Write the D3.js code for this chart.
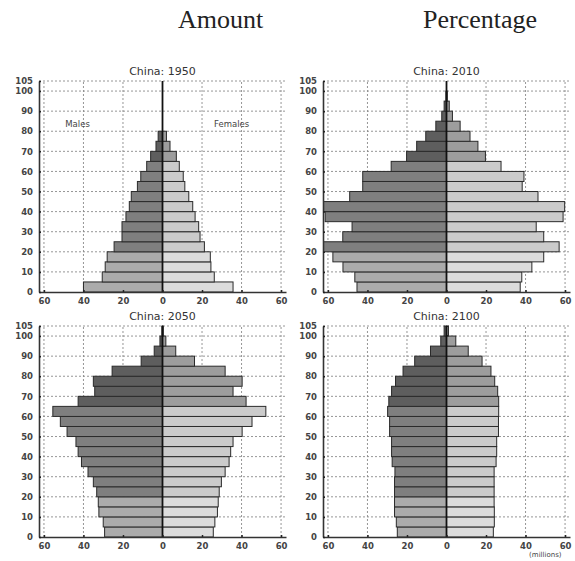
<!DOCTYPE html>
<html><head><meta charset="utf-8">
<script src="https://cdn.jsdelivr.net/npm/d3@7"></script>
<style>body{margin:0;background:#fff} svg{display:block}</style>
</head><body>
<script>
// Five-year age groups, bottom to top
const ageGroups = ["0-4","5-9","10-14","15-19","20-24","25-29","30-34","35-39","40-44","45-49",
  "50-54","55-59","60-64","65-69","70-74","75-79","80-84","85-89","90-94","95-99","100+"];
const ageTicks = [0,10,20,30,40,50,60,70,80,90,100,105];
const popTicks = [-60,-40,-20,0,20,40,60];
const titles = ["China: 1950","China: 2010","China: 2050","China: 2100"];

// Population in millions per age group
const male1950   = [40,30.5,29,28,24.5,20.5,20.5,18.5,16.8,15.8,12.7,11,8,6,3.3,2.2,0,0,0,0,0];
const female1950 = [35.7,26.2,24.5,24.2,21.2,19,18.3,16.5,15.3,13.3,11.3,10.5,8.5,7,3.8,2,0,0,0,0,0];
const male2010   = [45.3,46.4,52.4,57.5,63.5,52.5,47.8,61.4,63.5,49,42.4,42.4,28,20.2,15.1,10.5,5.4,2.4,1.2,0.3,0];
const female2010 = [37.3,38.1,43.2,49.2,57,49.2,45.4,59,59.8,46.3,38.3,39.2,27.6,19.7,15.9,11.9,6.9,3,1.4,0.4,0];
const male2050   = [29.3,30,32.2,32.5,33.3,35,37.7,41,42.7,43.8,48.3,51.7,55.5,42.7,34.3,35,25.5,10.8,4.2,1.3,0.3];
const female2050 = [25.7,26.5,27.8,28.2,28.7,29.8,31.7,33.7,34.5,35.7,40.3,45.3,52.3,42.3,35.7,40.3,31.7,16.2,6.7,1.7,0.4];
const male2100   = [24.9,25.4,26.3,26.3,26.3,26.3,26.1,27.5,27.8,27.8,28.8,28.8,29.8,29.2,27.8,25.8,22,16.1,8.1,2.9,1.2];
const female2100 = [23.7,24.2,24.2,24.1,24.1,24.1,24.1,25.1,25.4,25.4,26.3,26.3,26.4,26.4,25.9,24.4,22.5,18,11,4.7,1];

const maleSeries = [male1950, male2010, male2050, male2100];
const femaleSeries = [female1950, female2010, female2050, female2100];

// Shading: 0-19, 20-64, 65+
const maleFill = ["#ababab", "#7f7f7f", "#5e5e5e"];
const femaleFill = ["#dcdcdc", "#cbcbcb", "#9d9d9d"];
const band = i => i < 4 ? 0 : (i < 13 ? 1 : 2);

const frames = [
  {x0: 39, x1: 286, y0: 292, y1: 81},
  {x0: 323, x1: 570, y0: 292, y1: 81},
  {x0: 39, x1: 286, y0: 537, y1: 326},
  {x0: 323, x1: 570, y0: 537, y1: 326}
];

const svg = d3.select("body").append("svg").attr("width", 575).attr("height", 561)
  .style("font-family", "'DejaVu Sans', sans-serif");

svg.append("text").attr("x", 178).attr("y", 28).text("Amount")
  .style("font-family", "'Liberation Serif', serif").style("font-size", "26px").attr("fill", "#222");
svg.append("text").attr("x", 423).attr("y", 28).text("Percentage")
  .style("font-family", "'Liberation Serif', serif").style("font-size", "26px").attr("fill", "#222");

const defs = svg.append("defs");

frames.forEach((f, p) => {
  const x = d3.scaleLinear().domain([-62.5, 62.5]).range([f.x0, f.x1]);
  const y = d3.scaleLinear().domain([0, 105]).range([f.y0, f.y1]);
  const g = svg.append("g");

  defs.append("clipPath").attr("id", "clip" + p).append("rect")
    .attr("x", f.x0).attr("y", f.y1 - 2).attr("width", f.x1 - f.x0).attr("height", f.y0 - f.y1 + 2);

  // dotted grid
  const grid = g.append("g").attr("stroke", "#8a8a8a").attr("stroke-dasharray", "2,2").attr("stroke-width", 0.9);
  grid.selectAll("line.h").data(ageTicks.filter(d => d > 0)).join("line")
    .attr("x1", f.x0).attr("x2", x(62)).attr("y1", d => y(d)).attr("y2", d => y(d));
  grid.selectAll("line.v").data(popTicks.filter(d => d !== 0)).join("line")
    .attr("x1", d => x(d)).attr("x2", d => x(d)).attr("y1", f.y0).attr("y2", y(105));

  // bars
  const bars = g.append("g").attr("clip-path", `url(#clip${p})`)
    .attr("stroke", "#2a2a2a").attr("stroke-width", 1);
  const lo = i => i * 5, hi = i => i * 5 + 5;
  bars.selectAll("rect.m").data(maleSeries[p]).join("rect")
    .attr("x", d => x(-d)).attr("width", d => x(0) - x(-d))
    .attr("y", (d, i) => y(hi(i))).attr("height", (d, i) => y(lo(i)) - y(hi(i)))
    .attr("fill", (d, i) => maleFill[band(i)])
    .attr("display", d => d > 0 ? null : "none");
  bars.selectAll("rect.f").data(femaleSeries[p]).join("rect")
    .attr("x", x(0)).attr("width", d => x(d) - x(0))
    .attr("y", (d, i) => y(hi(i))).attr("height", (d, i) => y(lo(i)) - y(hi(i)))
    .attr("fill", (d, i) => femaleFill[band(i)])
    .attr("display", d => d > 0 ? null : "none");

  // centre line
  g.append("line").attr("x1", x(0)).attr("x2", x(0)).attr("y1", f.y0).attr("y2", y(105))
    .attr("stroke", "#111").attr("stroke-width", 1.8);

  // axes
  const ax = g.append("g").attr("transform", `translate(0,${f.y0})`)
    .call(d3.axisBottom(x).tickValues(popTicks).tickFormat(d => Math.abs(d)).tickSize(-2).tickSizeOuter(0).tickPadding(6));
  const ay = g.append("g").attr("transform", `translate(${f.x0},0)`)
    .call(d3.axisLeft(y).tickValues(ageTicks).tickSize(-2).tickSizeOuter(0).tickPadding(6));
  [ax, ay].forEach(a => {
    a.select(".domain").attr("stroke", "#333").attr("stroke-width", 1.6);
    a.selectAll(".tick line").attr("stroke", "#222").attr("stroke-width", 1.5);
    a.selectAll(".tick text").attr("fill", "#444").style("font-size", "8.5px")
      .style("font-family", "'DejaVu Sans', sans-serif").style("font-weight", "bold");
  });

  g.append("text").attr("x", x(0)).attr("y", f.y1 - 6).attr("text-anchor", "middle")
    .text(titles[p]).style("font-size", "11px").attr("fill", "#333");

  if (p === 0) {
    g.append("text").attr("x", x(-43)).attr("y", y(82)).attr("text-anchor", "middle")
      .text("Males").style("font-size", "8.5px").attr("fill", "#444");
    g.append("text").attr("x", x(35)).attr("y", y(82)).attr("text-anchor", "middle")
      .text("Females").style("font-size", "8.5px").attr("fill", "#444");
  }
  if (p === 3) {
    g.append("text").attr("x", x(50)).attr("y", f.y0 + 20).attr("text-anchor", "middle")
      .text("(millions)").style("font-size", "7px").attr("fill", "#444");
  }
});
</script>
</body></html>
